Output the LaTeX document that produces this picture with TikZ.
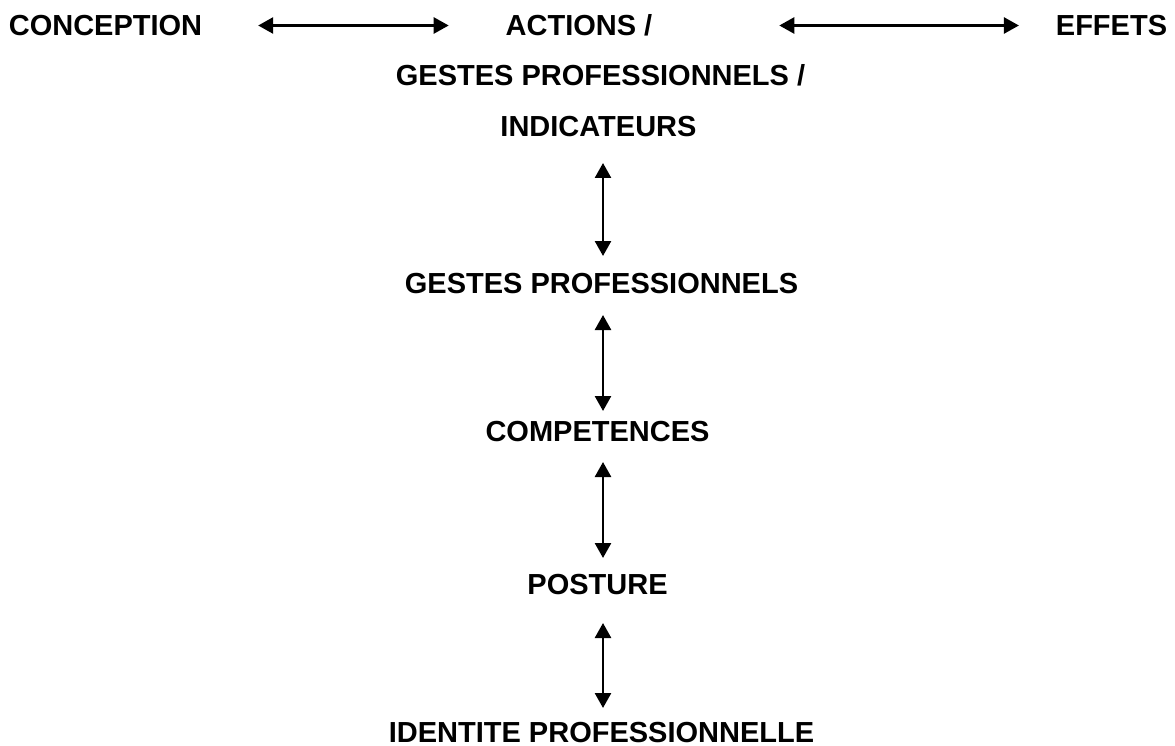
\documentclass[tikz,border=0pt]{standalone}
\usepackage{fontspec}
\setmainfont{Liberation Sans}
\usetikzlibrary{arrows.meta}

\tikzset{
  label/.style={inner sep=0pt, outer sep=0pt, anchor=base,
    text height=21pt, text depth=0pt,
    font=\fontsize{29}{30}\selectfont\bfseries},
  biarrow/.style={line width=2.6pt,
    {Triangle[length=15pt,width=16pt]}-{Triangle[length=15pt,width=16pt]}}
}

\begin{document}
\begin{tikzpicture}[x=1pt,y=-1pt]
  \useasboundingbox (0,0) rectangle (1175,746);

  % top row
  \node[label] (concep)  at (105.5,36)  {CONCEPTION};
  \node[label] (actions) at (579,36)    {ACTIONS /};
  \node[label] (effets)  at (1111.5,36) {EFFETS};

  % middle column
  \node[label] (gestesb) at (600.5,86)  {GESTES PROFESSIONNELS /};
  \node[label] (indic)   at (598.5,137) {INDICATEURS};
  \node[label] (gestes)  at (601.5,293) {GESTES PROFESSIONNELS};
  \node[label] (compet)  at (597.5,441) {COMPETENCES};
  \node[label] (posture) at (597.5,594) {POSTURE};
  \node[label] (ident)   at (601.5,742) {IDENTITE PROFESSIONNELLE};

  % vertical axis of the column arrows
  \coordinate (axis) at (603,0);

  % horizontal links
  \draw[biarrow, shorten <=56pt, shorten >=57pt] (concep.east) -- (actions.west);
  \draw[biarrow, shorten <=127pt, shorten >=37pt] (actions.east) -- (effets.west);

  % vertical links
  \draw[biarrow, shorten <=26pt, shorten >=16pt] (indic.south -| axis)   -- (gestes.north -| axis);
  \draw[biarrow, shorten <=22pt, shorten >=9pt]  (gestes.south -| axis)  -- (compet.north -| axis);
  \draw[biarrow, shorten <=21pt, shorten >=15pt] (compet.south -| axis)  -- (posture.north -| axis);
  \draw[biarrow, shorten <=29pt, shorten >=13pt] (posture.south -| axis) -- (ident.north -| axis);
\end{tikzpicture}
\end{document}
